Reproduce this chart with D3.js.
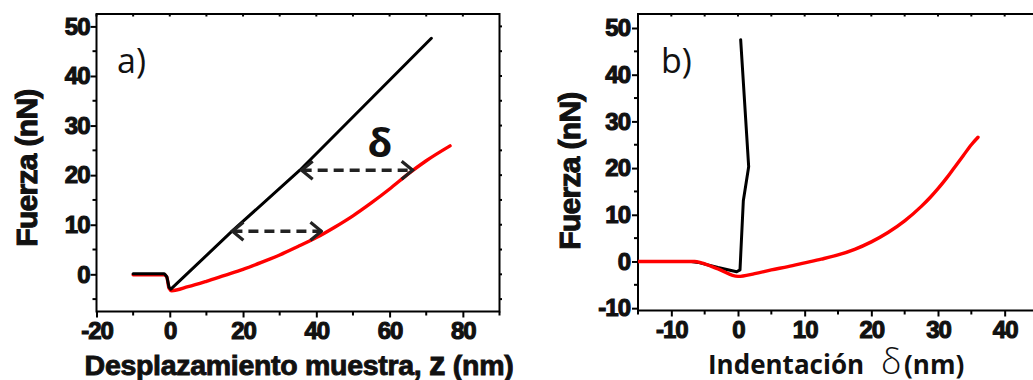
<!DOCTYPE html>
<html><head><meta charset="utf-8">
<script src="https://cdn.jsdelivr.net/npm/d3@7"></script>
<style>body{margin:0;background:#fff}svg{display:block}</style>
</head><body>
<svg id="c" width="1033" height="380"></svg>
<script>
// ---- data, panel a) ----
const aBlackZ = [-10, -1.5, -0.8, -0.2, 0.3, 17, 35.5, 71.4];
const aBlackF = [0.1, 0.1, -0.5, -2.6, -3.0, 8.7, 21.0, 47.6];
const aRedZ = [-10, -1.5, -0.8, -0.2, 0.5, 5, 10, 15, 20, 25, 30, 35, 40, 45, 50, 55, 60, 65, 70, 76.5];
const aRedF = [-0.1, -0.1, -0.6, -2.8, -3.3, -2.5, -1.4, -0.2, 1.0, 2.4, 3.9, 5.6, 7.4, 9.5, 11.8, 14.4, 17.2, 20.2, 22.9, 25.9];
const aArrowY = [8.7, 21.0];
const aArrowX0 = [17.1, 36.0];
const aArrowX1 = [41.4, 66.3];
const aXTicks = [-20, 0, 20, 40, 60, 80];
const aYTicks = [0, 10, 20, 30, 40, 50];
// ---- data, panel b) ----
const bBlackD = [-15, -7, -6, -3, -0.2, 0.3, 0.8, 1.6, 0.4];
const bBlackF = [0, 0, -0.2, -1.3, -2.2, -1.8, 13, 20.3, 47.5];
const bRedD = [-15, -6.5, -5.5, -3, 0, 2.5, 5, 7.5, 10, 12.5, 15, 17.5, 20, 22.5, 25, 27.5, 28.75, 30, 31.25, 32.5, 33.75, 35, 36];
const bRedF = [0, 0, -0.3, -1.6, -3.2, -2.6, -1.8, -1.1, -0.3, 0.5, 1.4, 2.6, 4.2, 6.2, 8.7, 11.8, 13.6, 15.6, 17.8, 20.2, 22.6, 25.0, 26.6];
const bXTicks = [-10, 0, 10, 20, 30, 40];
const bYTicks = [-10, 0, 10, 20, 30, 40, 50];

const svg = d3.select('#c');
const TF = 'Liberation Sans, Arial, sans-serif';
const CF = 'Open Sans, Noto Sans, sans-serif';

svg.append('defs').append('marker')
  .attr('id', 'chev').attr('viewBox', '-14 -11 16 22')
  .attr('markerWidth', 16).attr('markerHeight', 22).attr('refX', 0).attr('refY', 0)
  .attr('markerUnits', 'userSpaceOnUse').attr('orient', 'auto-start-reverse')
  .append('path').attr('d', 'M-11,-9 L0,0 L-11,9').attr('fill', 'none')
  .attr('stroke', '#222').attr('stroke-width', 3.2);

function panel(o) {
  const x = d3.scaleLinear().domain(o.xd).range(o.xr);
  const y = d3.scaleLinear().domain(o.yd).range(o.yr);
  const g = svg.append('g');
  const x0 = o.xr[0], x1 = o.xr[1], yb = o.yr[0], yt = o.yr[1];
  // minor ticks
  const xm = d3.range(o.xd[0], o.xd[1] + 0.001, o.xMinor).filter(v => o.xTicks.indexOf(v) < 0);
  const ym = d3.range(Math.ceil(o.yd[0] / 5) * 5, o.yd[1], 5).filter(v => o.yTicks.indexOf(v) < 0);
  g.selectAll('.xm').data(xm).enter().append('line')
    .attr('x1', d => x(d)).attr('x2', d => x(d)).attr('y1', yb).attr('y2', yb + 4)
    .attr('stroke', '#000').attr('stroke-width', 2);
  g.selectAll('.ym').data(ym).enter().append('line')
    .attr('x1', x0 - 4).attr('x2', x0).attr('y1', d => y(d)).attr('y2', d => y(d))
    .attr('stroke', '#000').attr('stroke-width', 2);
  // top / right small ticks
  const xall = d3.range(Math.ceil(o.xd[0] / o.xMinor) * o.xMinor, o.xd[1], o.xMinor);
  g.selectAll('.xt').data(xall).enter().append('line')
    .attr('x1', d => x(d)).attr('x2', d => x(d)).attr('y1', yt).attr('y2', yt + 2.5)
    .attr('stroke', '#000').attr('stroke-width', 2);
  const yall = d3.range(Math.ceil(o.yd[0] / 5) * 5, o.yd[1], 5);
  g.selectAll('.yt').data(yall).enter().append('line')
    .attr('x1', x1).attr('x2', x1 + 2.5).attr('y1', d => y(d)).attr('y2', d => y(d))
    .attr('stroke', '#000').attr('stroke-width', 2);

  const fmt = d => String(d);
  const ax = g.append('g').attr('transform', `translate(0,${yb})`)
    .call(d3.axisBottom(x).tickValues(o.xTicks).tickFormat(fmt).tickSize(6).tickPadding(4).tickSizeOuter(0));
  const ay = g.append('g').attr('transform', `translate(${x0},0)`)
    .call(d3.axisLeft(y).tickValues(o.yTicks).tickFormat(fmt).tickSize(6).tickPadding(o.yPad).tickSizeOuter(0));
  [ax, ay].forEach(a => {
    a.select('.domain').remove();
    a.attr('font-family', TF).attr('font-size', 24).attr('font-weight', 'bold');
    a.selectAll('line').attr('stroke', '#000').attr('stroke-width', 2);
    a.selectAll('text').attr('fill', '#111').attr('stroke', '#111').attr('stroke-width', 1.1)
      .attr('letter-spacing', '-1');
  });
  g.append('rect').attr('x', x0).attr('y', yt).attr('width', x1 - x0).attr('height', yb - yt)
    .attr('fill', 'none').attr('stroke', '#000').attr('stroke-width', 2);

  const clip = 'clip' + o.id;
  svg.append('clipPath').attr('id', clip).append('rect')
    .attr('x', x0).attr('y', yt).attr('width', x1 - x0).attr('height', yb - yt);
  const pg = g.append('g').attr('clip-path', `url(#${clip})`);
  const line = d3.line().x(d => x(d[0])).y(d => y(d[1])).curve(d3.curveMonotoneX);
  const lineB = d3.line().x(d => x(d[0])).y(d => y(d[1]));
  const black = o.bx.map((v, i) => [v, o.by[i]]);
  const red = o.rx.map((v, i) => [v, o.ry[i]]);
  const draw = (pts, col, w, ln) => pg.append('path').datum(pts).attr('d', ln).attr('fill', 'none')
    .attr('stroke', col).attr('stroke-width', w).attr('stroke-linejoin', 'round').attr('stroke-linecap', 'round');
  if (o.redTop) { draw(black, '#000', 3, lineB); draw(red, '#ff0000', 3.4, line); }
  else { draw(red, '#ff0000', 3.4, line); draw(black, '#000', 3, lineB); }

  // y title
  g.append('text').attr('transform', `translate(${o.ytx},${o.yty}) rotate(-90)`)
    .attr('text-anchor', 'middle').attr('fill', '#111').attr('stroke', '#111').attr('stroke-width', 1)
    .attr('font-family', TF).attr('font-weight', 'bold').attr('font-size', 30)
    .attr('letter-spacing', '-0.7').text('Fuerza (nN)');
  // panel label
  g.append('text').attr('x', o.lx).attr('y', 73).attr('fill', '#111')
    .attr('font-family', CF).attr('font-size', 34).text(o.label);
  return {x, y, g};
}

const A = panel({id: 'a', xd: [-20, 90], xr: [96.5, 499.5], yd: [-7.5, 52.5], yr: [311.5, 14],
  xTicks: aXTicks, yTicks: aYTicks, xMinor: 10, yPad: 1,
  bx: aBlackZ, by: aBlackF, rx: aRedZ, ry: aRedF, redTop: false,
  ytx: 37, yty: 168, lx: 117, label: 'a)'});

const B = panel({id: 'b', xd: [-15, 45], xr: [638, 1038], yd: [-10.5, 53], yr: [310.5, 14],
  xTicks: bXTicks, yTicks: bYTicks, xMinor: 5, yPad: 2,
  bx: bBlackD, by: bBlackF, rx: bRedD, ry: bRedF, redTop: true,
  ytx: 580, yty: 171, lx: 661, label: 'b)'});

// arrows in panel a
aArrowY.forEach((v, i) => {
  A.g.append('line').attr('x1', A.x(aArrowX0[i])).attr('x2', A.x(aArrowX1[i]))
    .attr('y1', A.y(v)).attr('y2', A.y(v))
    .attr('stroke', '#222').attr('stroke-width', 3.4).attr('stroke-dasharray', '10,6')
    .attr('marker-start', 'url(#chev)').attr('marker-end', 'url(#chev)');
});
A.g.append('text').attr('x', 380).attr('y', 157).attr('text-anchor', 'middle').attr('fill', '#111')
  .attr('font-family', CF).attr('font-weight', 'bold').attr('font-size', 40).text('δ');

// x titles
const t1 = svg.append('text').attr('x', 299).attr('y', 375).attr('text-anchor', 'middle').attr('fill', '#111')
  .attr('stroke', '#111').attr('stroke-width', 0.9)
  .attr('font-family', TF).attr('font-weight', 'bold').attr('font-size', 28.5).attr('letter-spacing', '-0.3');
t1.append('tspan').text('Desplazamiento muestra, ');
t1.append('tspan').attr('font-size', 33).text('z');
t1.append('tspan').text(' (nm)');

const t2 = svg.append('text').attr('x', 708).attr('y', 374).attr('fill', '#111')
  .attr('font-family', CF).attr('font-size', 26);
t2.append('tspan').attr('font-weight', 'bold').text('Indentación');
t2.append('tspan').attr('x', 881).attr('font-size', 35).attr('font-weight', '300').text('δ');
t2.append('tspan').attr('x', 904).attr('font-weight', 'bold').text('(nm)');
</script>
</body></html>
